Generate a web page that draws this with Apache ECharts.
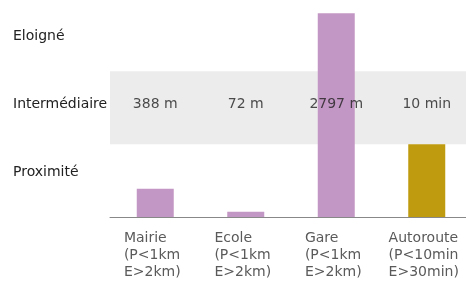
<!DOCTYPE html>
<html>
<head>
<meta charset="utf-8">
<script src="https://cdn.jsdelivr.net/npm/echarts@6/dist/echarts.min.js"></script>
<style>
  html, body { margin: 0; padding: 0; background: #fff; }
  #chart { width: 466px; height: 281px; }
</style>
</head>
<body>
<div id="chart"></div>
<script>
// categories (x axis)
var categories = ["Mairie\n(P<1km\nE>2km)", "Ecole\n(P<1km\nE>2km)", "Gare\n(P<1km\nE>2km)", "Autoroute\n(P<10min\nE>30min)"];
// bar heights, in metres (Autoroute: 10 min rescaled so that P = 1000)
var values = [388, 72, 2797, 1000];
var barColors = ["#c397c5", "#c397c5", "#c397c5", "#bf9b0f"];
// value texts shown in the grey band
var valueLabels = ["388 m", "72 m", "2797 m", "10 min"];
// zone names (bottom to top)
var zones = ["Proximité", "Intermédiaire", "Eloigné"];
// intermediate zone limits
var bandLimits = [1000, 2000];
var labelLevel = 1550;

var myChart = echarts.init(document.getElementById('chart'));

var option = {
    animation: false,
    textStyle: { fontFamily: 'DejaVu Sans' },
    grid: [
        { left: 110, width: 362, top: 13, bottom: 64, outerBoundsMode: 'none', containLabel: false },
        { left: 110, width: 362, top: 2, bottom: 75, outerBoundsMode: 'none', containLabel: false }
    ],
    xAxis: [
        {
            type: 'category',
            gridIndex: 0,
            data: categories,
            axisTick: { show: false },
            axisLine: { lineStyle: { color: '#888', width: 1 } },
            axisLabel: {
                margin: 13,
                interval: 0,
                padding: [0, 6, 0, 0],
                formatter: function(v) {
                    return v.split('\n').map(function(l) { return '{a|' + l + '}'; }).join('\n');
                },
                rich: {
                    a: { align: 'left', fontSize: 14, lineHeight: 17, color: '#5a5a5a', fontFamily: 'DejaVu Sans' }
                }
            }
        },
        {
            type: 'category',
            gridIndex: 1,
            data: categories,
            show: false
        }
    ],
    yAxis: [
        {
            type: 'value',
            gridIndex: 0,
            min: 0,
            max: 2800,
            show: false,
            splitLine: { show: false }
        },
        {
            type: 'category',
            gridIndex: 1,
            data: zones,
            axisLine: { show: false },
            axisTick: { show: false },
            splitLine: { show: false },
            axisLabel: {
                align: 'left',
                margin: 97,
                fontSize: 14,
                fontFamily: 'DejaVu Sans',
                color: '#222'
            }
        }
    ],
    series: [
        {
            // grey band for the intermediate zone
            type: 'line',
            xAxisIndex: 0,
            yAxisIndex: 0,
            data: [],
            z: 0,
            markArea: {
                silent: true,
                itemStyle: { color: '#ececec' },
                data: [[{ yAxis: bandLimits[0] }, { yAxis: bandLimits[1] }]]
            }
        },
        {
            type: 'bar',
            xAxisIndex: 0,
            yAxisIndex: 0,
            barWidth: 37,
            z: 2,
            data: values.map(function(v, i) {
                return { value: v, itemStyle: { color: barColors[i] } };
            })
        },
        {
            type: 'scatter',
            xAxisIndex: 0,
            yAxisIndex: 0,
            symbolSize: 0,
            z: 5,
            data: valueLabels.map(function(t) { return labelLevel; }),
            label: {
                show: true,
                position: 'inside',
                fontSize: 14,
                fontFamily: 'DejaVu Sans',
                color: '#222',
                formatter: function(p) { return valueLabels[p.dataIndex]; }
            }
        }
    ]
};

myChart.setOption(option);
</script>
</body>
</html>
